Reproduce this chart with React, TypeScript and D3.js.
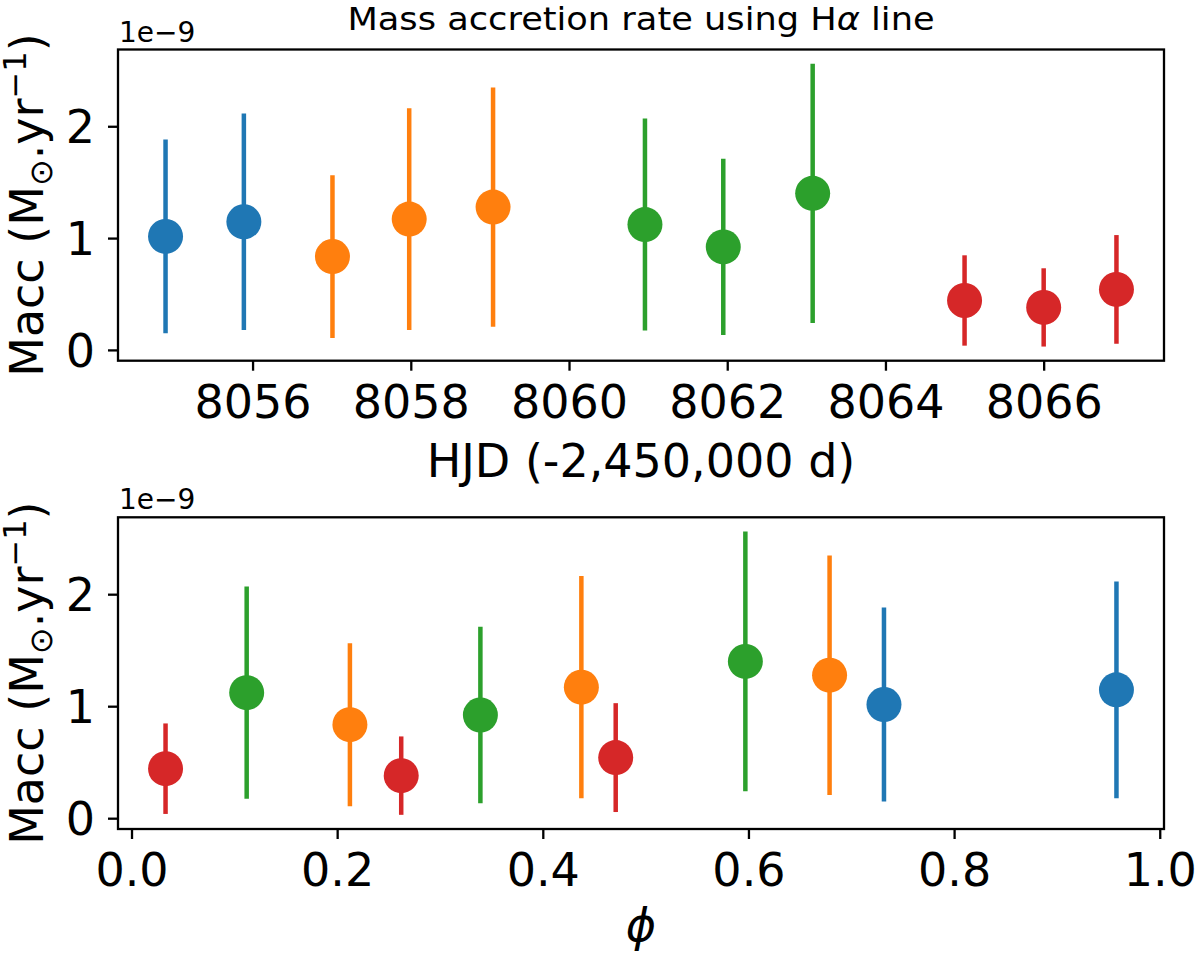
import React, { useRef, useEffect } from "react";
import * as d3 from "d3";

// observations (HJD - 2,450,000), rotational phase and mass accretion rate (1e-9 Msun/yr)
const hjd = [8054.9, 8055.89, 8057.01, 8057.98, 8059.04, 8060.96, 8061.95, 8063.08, 8065.0, 8066.0, 8066.92];
const phase = [0.7318, 0.9579, 0.2124, 0.4375, 0.6789, 0.112, 0.3393, 0.597, 0.0331, 0.2623, 0.4709];
const macc = [1.015, 1.146, 0.835, 1.17, 1.277, 1.121, 0.921, 1.4, 0.442, 0.38, 0.541];
const maccErr = [0.866, 0.968, 0.728, 0.992, 1.069, 0.948, 0.788, 1.16, 0.404, 0.35, 0.486];
const night = [0, 0, 1, 1, 1, 2, 2, 2, 3, 3, 3];
const nightColors = ["#1f77b4", "#ff7f0e", "#2ca02c", "#d62728"];

const hjdTicks = [8056, 8058, 8060, 8062, 8064, 8066];
const phaseTicks = [0, 0.2, 0.4, 0.6, 0.8, 1.0];
const maccTicks = [0, 1, 2];

const W = 1200;
const H = 955;
const FONT = "DejaVu Sans, Verdana, sans-serif";

// matplotlib-like 5% margins
function padded(lo: number, hi: number): [number, number] {
  const p = (hi - lo) * 0.05;
  return [lo - p, hi + p];
}

export default function App() {
  const ref = useRef<SVGSVGElement>(null);

  useEffect(() => {
    document.body.style.margin = "0";
    if (!ref.current) return;
    const svg = d3.select(ref.current);
    svg.selectAll("*").remove();

    const left = 118;
    const right = 1164;

    const lo = d3.min(macc.map((v, i) => v - maccErr[i]))!;
    const hi = d3.max(macc.map((v, i) => v + maccErr[i]))!;
    const yDomain = padded(lo, hi);

    const panel = (
      xVals: number[],
      xTicks: number[],
      fmt: (d: number) => string,
      top: number,
      bottom: number,
      labelPad: number
    ) => {
      const [xmin, xmax] = d3.extent(xVals) as [number, number];
      const x = d3.scaleLinear().domain(padded(xmin, xmax)).range([left, right]);
      const y = d3.scaleLinear().domain(yDomain).range([bottom, top]);

      const g = svg.append("g");

      // error bars
      g.selectAll("line.err")
        .data(xVals)
        .join("line")
        .attr("class", "err")
        .attr("x1", d => x(d))
        .attr("x2", d => x(d))
        .attr("y1", (d, i) => y(macc[i] - maccErr[i]))
        .attr("y2", (d, i) => y(macc[i] + maccErr[i]))
        .attr("stroke", (d, i) => nightColors[night[i]])
        .attr("stroke-width", 4.5);

      // markers
      g.selectAll("circle")
        .data(xVals)
        .join("circle")
        .attr("cx", d => x(d))
        .attr("cy", (d, i) => y(macc[i]))
        .attr("r", 17.5)
        .attr("fill", (d, i) => nightColors[night[i]]);

      const xAxis = d3.axisBottom(x).tickValues(xTicks).tickFormat(fmt as any).tickSize(10).tickPadding(labelPad);
      const yAxis = d3.axisLeft(y).tickValues(maccTicks).tickFormat(d3.format("d") as any).tickSize(10).tickPadding(13);

      const gx = g.append("g").attr("transform", `translate(0,${bottom})`).call(xAxis);
      const gy = g.append("g").attr("transform", `translate(${left},0)`).call(yAxis);
      [gx, gy].forEach(a => {
        a.select(".domain").remove();
        a.attr("font-family", FONT).attr("font-size", 46);
        a.selectAll("line").attr("stroke", "#000").attr("stroke-width", 2.3);
        a.selectAll("text").attr("fill", "#000");
      });
      gy.selectAll("text").attr("dy", "0.36em");

      // frame
      g.append("rect")
        .attr("x", left)
        .attr("y", top)
        .attr("width", right - left)
        .attr("height", bottom - top)
        .attr("fill", "none")
        .attr("stroke", "#000")
        .attr("stroke-width", 2.3);

      // offset text
      g.append("text")
        .attr("x", 119)
        .attr("y", top - 8)
        .attr("font-family", FONT)
        .attr("font-size", 28)
        .text("1e\u22129");

      // y label
      const yl = g.append("text")
        .attr("transform", `translate(43,${(top + bottom) / 2}) rotate(-90)`)
        .attr("text-anchor", "middle")
        .attr("font-family", FONT)
        .attr("font-size", 46);
      yl.append("tspan").text("Macc (M");
      yl.append("tspan").attr("font-size", 32).attr("dy", 9).text("\u2299");
      yl.append("tspan").attr("dy", -9).text(".yr");
      yl.append("tspan").attr("font-size", 32).attr("dy", -17).text("\u22121");
      yl.append("tspan").attr("dy", 17).text(")");
    };

    panel(hjd, hjdTicks, d3.format("d"), 49.5, 360.7, 15);
    panel(phase, phaseTicks, d3.format(".1f"), 517.3, 829, 14);

    // title
    const t = svg.append("text")
      .attr("transform", "translate(641,30) scale(1.1,1)")
      .attr("text-anchor", "middle")
      .attr("font-family", FONT)
      .attr("font-size", 32);
    t.append("tspan").text("Mass accretion rate using H");
    t.append("tspan").attr("font-style", "italic").text("\u03b1");
    t.append("tspan").text(" line");

    // x labels
    svg.append("text")
      .attr("x", 641)
      .attr("y", 477)
      .attr("text-anchor", "middle")
      .attr("font-family", FONT)
      .attr("font-size", 46)
      .text("HJD (-2,450,000 d)");

    svg.append("text")
      .attr("x", 641)
      .attr("y", 941)
      .attr("text-anchor", "middle")
      .attr("font-family", FONT)
      .attr("font-style", "italic")
      .attr("font-size", 46)
      .text("\u03d5");
  }, []);

  return <svg ref={ref} width={W} height={H} style={{ display: "block", background: "#fff" }} />;
}
